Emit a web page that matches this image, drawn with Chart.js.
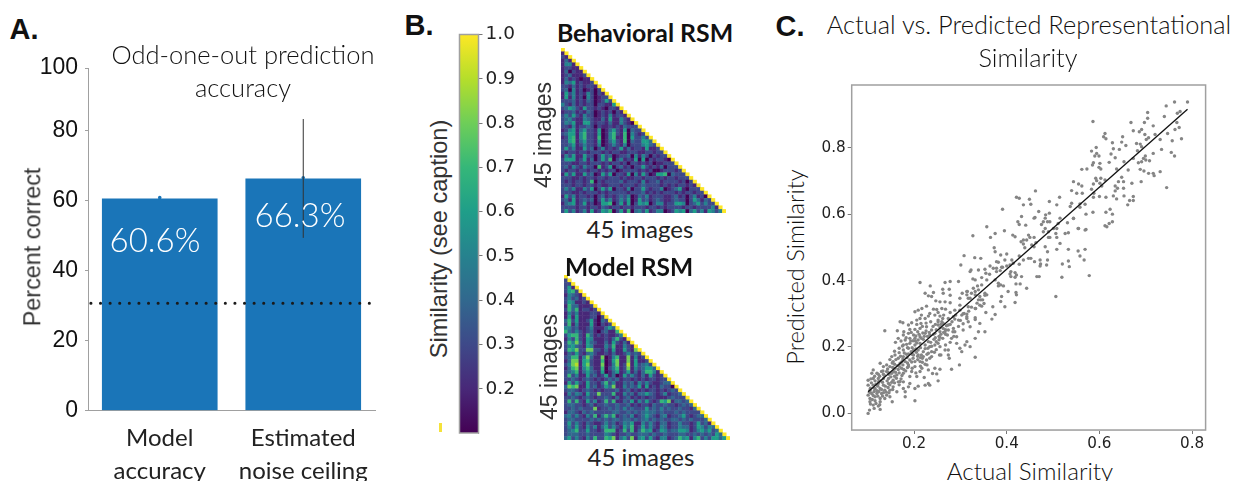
<!DOCTYPE html>
<html>
<head>
<meta charset="utf-8">
<title>Odd-one-out prediction and representational similarity</title>
<script src="https://cdn.jsdelivr.net/npm/chart.js@4"></script>
<style>
    body { margin: 0; background: #fff; width: 1237px; height: 481px; overflow: hidden; position: relative; }
    canvas { position: absolute; }
    .cap { position: absolute; white-space: nowrap; color: #1a1a1a; line-height: 1; }
</style>
</head>
<body>
<canvas id="bars" width="360" height="426" style="left:20px;top:55px"></canvas>
<canvas id="colorbar" width="75" height="420" style="left:455px;top:25px"></canvas>
<canvas id="behavioral" width="165" height="165" style="left:561px;top:48px"></canvas>
<canvas id="model" width="166" height="165" style="left:564px;top:275px"></canvas>
<canvas id="scatter" width="410" height="380" style="left:810px;top:70px"></canvas>
<div id="stray" style="position:absolute;left:439px;top:423px;width:2.5px;height:9px;background:#f5e23a"></div>
<script>
// panel A
const barCategories = [['Model', 'accuracy'], ['Estimated', 'noise ceiling']];
const barValues = [60.6, 66.3];
const barMarkers = [60.9, 66.6];
const errorCeiling = [49.4, 83.4];
const chanceLevel = 30.7;
const barTickValues = [0, 20, 40, 60, 80, 98];
const barTickLabels = ['0', '20', '40', '60', '80', '100'];

// panel B, one digit per cell, value = 0.1 + digit / 10, spaces only for counting
const behavioralRows = [
    '9', '19', '219', '1319', '14419',
    '12211 9', '13021 19', '12311 129', '13121 0119', '14351 21129',
    '22131 21221 9', '23041 20120 29', '15241 21420 219', '15141 20420 1229', '22231 21320 12529',
    '42131 21220 22115 9', '23542 15221 21022 19', '12231 21320 12120 219', '24252 14220 12141 2219', '23421 14321 13151 14219',
    '24351 15521 22131 14210 9', '22141 22320 21121 21322 29', '12451 35221 50135 21503 229', '23551 46221 50146 21604 2129', '12561 46221 60146 11605 22429',
    '22561 35221 50135 21603 22553 9', '22351 24221 40124 21402 22453 29', '25241 15230 24121 25131 22151 129', '21221 22122 21212 21122 21122 1229', '14251 15220 25230 12230 41420 21229',
    '25551 25130 25260 24121 50502 12210 9', '22211 22122 21212 21202 21212 01122 29', '23142 14220 61250 23120 22521 21302 229', '21221 22122 12122 01222 21212 00122 2129', '15251 15230 15250 22150 41520 15560 32229',
    '22211 21221 22122 21211 22122 21212 21222 9', '21212 21260 21222 23122 21412 23122 22120 29', '22212 21221 21122 21222 12322 22121 21221 219', '24241 14250 25250 22140 22521 22401 23510 2229', '22211 21222 12122 22212 22312 12122 21212 21229',
    '15241 22120 23121 23240 13241 22211 23120 24120 9', '23151 23230 25241 24250 15231 23211 23220 25313 29', '13451 25120 15560 25150 25450 24412 25540 23524 229', '22221 22122 13212 21221 22212 21212 22212 21222 2419', '25241 24151 25460 25160 34251 24401 25450 35241 54249'
];
const modelRows = [
    '9', '29', '229', '2519', '25629',
    '14321 9', '24231 29', '25411 219', '16331 1129', '26361 22129',
    '14241 11221 9', '15151 11220 29', '36251 12510 329', '26141 11510 2129', '44231 12411 13539',
    '63242 12310 23116 9', '25662 16312 12112 49', '14262 15411 12136 219', '26473 15321 13152 1319', '24532 15411 14261 14219',
    '26572 27722 13151 15217 9', '13252 13421 12131 12423 29', '23661 47311 70146 11714 129', '13771 56211 60157 11715 1129', '24781 57211 70147 12815 23429',
    '13671 46311 60246 12714 23553 9', '23461 35321 50135 12513 13664 19', '26241 15231 25130 15242 13152 129', '22321 23212 12323 12212 12122 1229', '15252 15221 36241 13231 42421 12339',
    '37671 15231 25371 14232 51512 13220 9', '23321 23212 12223 12312 12122 12123 29', '14243 15227 22261 14231 33532 12412 239', '22321 23212 23213 12312 12122 11123 2229', '26262 15241 26261 13251 42521 26571 33239',
    '23322 12312 23223 22312 12213 22322 12323 9', '22323 22271 22323 24232 22523 24232 23221 39', '13321 32322 22233 22323 23433 23222 32322 229', '34242 14261 36361 23241 23532 13412 23521 2339', '23322 22323 23233 23323 23423 23223 32323 22239',
    '25242 13211 24231 24351 14242 13312 24221 25231 9', '24252 14241 35242 15361 25242 14312 24331 25424 39', '23462 25221 26661 26261 36451 25423 35541 24535 239', '23332 23222 24321 22322 33323 22322 23322 32323 2539', '35242 14262 26571 35271 45252 14412 36451 46242 55359'
];
const colorbarTicks = [0.2, 0.3, 0.4, 0.5, 0.6, 0.7, 0.8, 0.9, 1.0];
const viridis = ['#440154', '#482878', '#3e4989', '#31688e', '#26828e', '#1f9e89', '#35b779', '#6ece58', '#b5de2b', '#fde725'];

// panel C, [actual, predicted]
const fitLine = [[0.101, 0.065], [0.79, 0.916]];
const simPairs = [
    [.790,.938],[.762,.938],[.744,.926],[.704,.906],[.586,.879],[.774,.909],[.768,.904],[.740,.894],[.704,.889],[.668,.876],[.697,.876],[.767,.876],[.716,.866],[.772,.861],[.763,.855],[.691,.855],[.686,.848],[.673,.851],[.747,.843],[.698,.840],[.720,.840],[.731,.825],[.706,.830],[.701,.825],[.777,.827],[.757,.821],[.612,.843],[.609,.833],[.614,.827],[.650,.833],[.628,.815],[.648,.817],[.657,.807],[.680,.813],[.688,.811],[.593,.801],[.583,.790],[.594,.783],[.599,.775],[.590,.775],[.630,.797],[.643,.795],[.625,.781],[.634,.770],[.682,.791],[.691,.803],[.734,.795],[.716,.783],[.755,.786],[.762,.775],[.699,.775],[.673,.768],[.695,.768],[.700,.763],[.691,.758],[.708,.761],[.684,.755],[.653,.758],[.621,.756],[.587,.755],[.585,.748],[.601,.753],[.599,.741],[.562,.735],[.573,.736],[.603,.736],[.637,.736],[.662,.733],[.688,.735],[.696,.730],[.706,.723],[.716,.723],[.718,.716],[.731,.728],[.592,.708],[.603,.708],[.612,.703],[.594,.701],[.601,.693],[.555,.691],[.562,.685],[.544,.698],[.648,.711],[.641,.698],[.652,.698],[.634,.685],[.670,.693],[.690,.698],[.605,.685],[.587,.691],[.745,.680],[.639,.678],[.652,.678],[.634,.670],[.583,.675],[.540,.671],[.551,.663],[.563,.663],[.588,.663],[.587,.651],[.600,.653],[.614,.651],[.630,.655],[.637,.646],[.653,.655],[.673,.653],[.673,.641],[.665,.641],[.661,.628],[.540,.633],[.558,.631],[.569,.630],[.558,.621],[.537,.623],[.571,.600],[.586,.606],[.614,.606],[.623,.615],[.628,.600],[.544,.587],[.628,.577],[.621,.572],[.612,.565],[.616,.562],[.555,.557],[.571,.554],
    [.462,.670],[.421,.651],[.427,.648],[.449,.645],[.436,.628],[.452,.630],[.391,.615],[.469,.608],[.492,.638],[.514,.651],[.508,.628],[.432,.593],[.461,.590],[.484,.598],[.492,.603],[.424,.577],[.427,.569],[.441,.567],[.459,.588],[.483,.588],[.479,.577],[.475,.569],[.488,.577],[.493,.577],[.515,.588],[.511,.572],[.531,.574],[.544,.588],[.357,.562],[.395,.550],[.375,.542],[.327,.535],[.365,.530],[.413,.537],[.418,.532],[.483,.557],[.479,.547],[.490,.547],[.501,.557],[.508,.557],[.506,.542],[.508,.530],[.490,.530],[.493,.530],[.447,.537],[.450,.530],[.459,.530],[.526,.542],[.533,.544],[.554,.557],[.569,.552],[.436,.522],[.431,.517],[.436,.510],[.443,.522],[.463,.514],[.454,.507],[.459,.502],[.439,.499],[.515,.512],[.373,.499],[.375,.487],[.508,.494],[.483,.502],[.488,.487],[.533,.494],[.554,.489],[.569,.494],[.387,.477],[.400,.480],[.427,.474],[.396,.462],[.308,.475],[.331,.469],[.344,.467],[.447,.467],[.452,.467],[.472,.462],[.488,.462],[.460,.457],[.558,.474],[.567,.462],[.533,.459],[.378,.457],[.382,.455],[.411,.462],[.436,.462],[.414,.452],[.427,.449],[.407,.447],[.473,.450],[.472,.444],[.486,.447],[.520,.450],[.535,.442],[.364,.444],[.353,.434],[.371,.437],[.378,.437],[.391,.440],[.400,.444],[.323,.432],[.339,.432],[.301,.447],[.321,.427],[.355,.422],[.363,.419],[.378,.427],[.386,.430],[.389,.440],[.409,.427],[.418,.424],[.407,.420],[.421,.417],[.409,.412],[.418,.410],[.432,.412],[.465,.412],[.470,.412],[.519,.410],[.578,.415],[.327,.405],[.332,.402],[.346,.409],[.357,.402],[.375,.402],[.382,.392],[.387,.387],[.393,.384],[.382,.384],[.346,.387],[.337,.384],[.328,.377],[.315,.367],[.314,.357],[.304,.362],[.324,.362],[.332,.357],[.353,.362],[.357,.357],[.403,.367],[.420,.390],[.429,.390],[.443,.377],[.420,.364],[.421,.357],[.389,.352],[.506,.352],[.344,.342],[.339,.342],[.387,.337],[.317,.347],[.351,.331],[.346,.323],[.342,.326],[.333,.316],[.418,.334],[.370,.321],[.396,.321],[.355,.304],[.308,.301],[.314,.299],[.375,.298],[.332,.288],[.314,.286],[.368,.284],[.303,.296],
    [.213,.394],[.235,.384],[.267,.394],[.278,.397],[.296,.397],[.224,.362],[.231,.354],[.242,.364],[.238,.352],[.262,.374],[.276,.374],[.263,.362],[.278,.356],[.314,.367],[.332,.367],[.339,.372],[.299,.347],[.321,.347],[.342,.352],[.353,.356],[.247,.339],[.256,.336],[.267,.336],[.278,.333],[.217,.316],[.209,.311],[.202,.306],[.227,.323],[.260,.316],[.249,.313],[.299,.326],[.288,.311],[.299,.311],[.332,.316],[.317,.321],[.234,.301],[.231,.293],[.245,.296],[.256,.293],[.262,.286],[.252,.281],[.260,.276],[.213,.286],[.206,.281],[.224,.286],[.195,.273],[.188,.266],[.206,.268],[.215,.271],[.170,.276],[.176,.273],[.137,.249],[.164,.249],[.178,.246],[.191,.253],[.202,.253],[.213,.256],[.227,.261],[.238,.251],[.252,.266],[.263,.271],[.274,.266],[.285,.291],[.296,.281],[.314,.291],[.317,.276],[.332,.283],[.342,.271],[.306,.251],[.321,.261],[.339,.246],[.353,.246],[.285,.256],[.288,.246],[.274,.251],[.267,.246],[.263,.256],[.256,.246],[.245,.241],[.234,.236],[.224,.241],[.213,.231],[.199,.236],[.188,.241],[.177,.236],[.166,.226],[.181,.221],[.191,.226],[.202,.226],[.209,.221],[.220,.223],[.231,.216],[.243,.223],[.256,.229],[.272,.236],[.281,.226],[.292,.231],[.314,.216],[.332,.226],[.292,.211],[.299,.196],[.310,.206],[.321,.201],[.303,.186],[.332,.169],[.281,.133],[.298,.146],[.274,.191],[.267,.191],[.256,.201],[.245,.206],[.234,.201],[.224,.206],[.213,.211],[.202,.206],[.191,.211],[.177,.206],[.168,.196],[.159,.176],[.152,.171],[.177,.191],[.188,.196],[.199,.191],[.209,.191],[.220,.186],[.231,.181],[.238,.171],[.255,.176],[.276,.166],[.274,.176],[.220,.171],[.209,.176],[.199,.176],[.188,.179],[.177,.171],[.166,.166],[.155,.156],[.170,.151],[.181,.156],[.191,.161],[.202,.156],[.213,.156],[.227,.161],[.141,.146],[.127,.151],[.134,.141],[.148,.141],[.159,.136],[.173,.136],[.188,.141],[.202,.141],[.217,.136],[.231,.131],[.245,.136],[.256,.133],[.249,.119],[.213,.126],[.195,.126],[.112,.131],[.109,.121],[.120,.121],[.130,.126],[.141,.126],[.152,.121],[.163,.116],[.177,.121],[.191,.111],[.206,.111],[.101,.100],[.112,.105],[.123,.105],[.134,.105],[.145,.105],[.155,.100],[.166,.095],[.177,.095],[.191,.090],[.231,.090],[.234,.085],[.224,.085],[.209,.082],[.202,.075],[.188,.080],[.177,.075],[.101,.085],[.112,.085],[.123,.090],[.134,.085],[.145,.090],[.155,.080],[.105,.070],[.116,.075],[.127,.075],[.137,.070],[.148,.070],[.163,.065],[.181,.065],[.101,.055],[.109,.060],[.120,.060],[.130,.060],[.141,.055],[.181,.050],[.148,.050],[.105,.045],[.116,.050],[.127,.045],[.137,.045],[.105,.035],[.116,.038],[.127,.035],[.153,.035],[.202,.038],[.112,.025],[.123,.022],[.114,.015],[.127,.012],[.104,.010],[.101,.000],
    [.160,.214],[.172,.218],[.184,.208],[.196,.198],[.183,.228],[.175,.203],[.198,.219],[.206,.212],[.216,.226],[.222,.232],[.194,.244],[.204,.233],[.168,.183],[.158,.187],[.148,.162],[.158,.148],[.168,.142],[.176,.164],[.185,.168],[.195,.155],[.205,.184],[.214,.198],[.224,.195],[.236,.214],[.246,.228],[.252,.211],[.262,.226],[.268,.238],[.256,.258],[.246,.268],[.236,.276],[.226,.272],[.218,.262],[.208,.246],[.226,.248],[.196,.178],[.186,.152],[.176,.146],[.166,.132],[.156,.126],[.146,.118],[.136,.114],[.126,.112],[.116,.098],[.108,.092],[.142,.098],[.152,.094],[.162,.106],[.172,.104],[.182,.128],[.196,.136],[.208,.162],[.218,.166],[.228,.146],[.238,.186],[.248,.192],[.258,.176],[.268,.206],[.278,.214],[.286,.232],[.264,.296],[.274,.286],[.282,.276],[.278,.304],[.268,.314],[.252,.304],[.242,.314],[.216,.296],[.132,.094],[.122,.082],[.114,.066],[.124,.066],[.134,.062],[.144,.078],[.154,.072],[.168,.086],[.106,.076],[.106,.062],[.112,.054],[.122,.052],[.132,.052],[.106,.028],[.118,.030],[.126,.026],[.146,.062],[.158,.092],[.174,.114],[.186,.138],[.214,.142],[.204,.122],[.222,.108],[.240,.120],[.252,.098],[.216,.176],[.230,.196],[.242,.238],[.254,.222],[.270,.264],[.284,.246],[.296,.262],[.306,.270],[.306,.300],[.318,.308],[.290,.296],[.300,.280],[.324,.320],[.336,.332],[.348,.342],
    [.252,.276],[.258,.268],[.248,.252],[.241,.262],[.233,.244],[.229,.232],[.219,.242],[.211,.238],[.203,.218],[.193,.218],[.186,.198],[.179,.182],[.171,.172],[.161,.162],[.153,.152],[.143,.134],[.133,.128],[.123,.118],[.115,.112],[.107,.104],[.118,.088],[.128,.098],[.138,.082],[.148,.086],[.158,.112],[.168,.122],[.178,.132],[.188,.146],[.198,.166],[.208,.172],[.218,.154],[.228,.178],[.238,.202],[.248,.216],[.258,.238],[.268,.252],[.278,.268],[.288,.284],[.264,.244],[.254,.232],[.244,.184],[.234,.166],[.224,.148],[.214,.168],[.204,.194],[.194,.186],[.184,.178],[.174,.156],[.164,.144],[.154,.138],[.144,.124],[.134,.118],[.124,.096],[.114,.076],[.104,.064],[.110,.042],[.120,.068],[.130,.072],[.140,.064],[.150,.110],[.160,.124],[.170,.096]
];

const axisGray = '#a0a0a0';

function parseRows(rows) {
    let cells = [];
    rows.forEach((row, r) => {
        row.replace(/ /g, '').split('').forEach((digit, c) => {
            cells.push({ x: c + 0.5, y: r + 0.5, v: digit / 10 });
        });
    });
    return cells;
}

function viridisColor(v) {
    return viridis[Math.round(v * 10)];
}

// fixed width so the plot area stays where the reference has it, no room kept for the top label
function fitVertical(width) {
    return (scale) => {
        scale.width = width;
        scale.paddingTop = 0;
        scale.paddingBottom = 0;
    };
}

// outline of the plot area, used by the colorbar and the scatter
const framePlugin = {
    id: 'frame',
    afterDatasetsDraw(chart) {
        const a = chart.chartArea;
        const ctx = chart.ctx;
        ctx.save();
        ctx.strokeStyle = axisGray;
        ctx.lineWidth = 1.5;
        ctx.strokeRect(a.left, a.top, a.right - a.left, a.bottom - a.top);
        ctx.restore();
    }
};

new Chart(document.getElementById('bars'), {
    type: 'bar',
    data: {
        labels: barCategories,
        datasets: [
            {
                type: 'line', xAxisID: 'x2',
                data: [{ x: 1.5, y: errorCeiling[0] }, { x: 1.5, y: errorCeiling[1] }],
                borderColor: '#333', borderWidth: 1, pointRadius: 0
            },
            {
                type: 'line', xAxisID: 'x2', showLine: false,
                data: [{ x: 0.5, y: barMarkers[0] }, { x: 1.5, y: barMarkers[1] }],
                pointRadius: 1.8, pointBorderWidth: 0, pointBackgroundColor: '#1a75b8'
            },
            {
                type: 'line', xAxisID: 'x2',
                data: [{ x: 0.02, y: chanceLevel }, { x: 1.97, y: chanceLevel }],
                borderColor: '#1a1a1a', borderWidth: 3, borderDash: [0.1, 9.5], borderCapStyle: 'round', pointRadius: 0
            },
            {
                data: barValues,
                backgroundColor: '#1a75b8',
                grouped: false,
                categoryPercentage: 1,
                barPercentage: 1,
                maxBarThickness: 115
            }
        ]
    },
    options: {
        responsive: false,
        animation: false,
        layout: { autoPadding: false, padding: { top: 13, right: 5 } },
        plugins: { legend: { display: false }, tooltip: { enabled: false } },
        scales: {
            x: {
                offset: true,
                grid: { display: false },
                border: { color: axisGray },
                ticks: { color: '#222', padding: 3, maxRotation: 0, font: { family: 'Lato', size: 24, lineHeight: 1.375 } },
                afterFit: (scale) => { scale.height = 70.5; }
            },
            x2: { type: 'linear', display: false, offset: false, min: 0, max: 2 },
            y: {
                min: 0,
                max: 98,
                afterBuildTicks: (scale) => { scale.ticks = barTickValues.map((v) => ({ value: v })); },
                grid: { drawOnChartArea: false, color: axisGray, tickLength: 3 },
                border: { color: axisGray },
                ticks: {
                    color: '#111',
                    padding: 7,
                    font: { family: 'Liberation Sans', size: 23 },
                    callback: (value) => barTickLabels[barTickValues.indexOf(value)]
                },
                afterFit: fitVertical(68)
            }
        }
    }
});

new Chart(document.getElementById('colorbar'), {
    type: 'bar',
    data: {
        labels: [''],
        datasets: [{
            data: [[0.1, 1.0]],
            categoryPercentage: 1,
            barPercentage: 1,
            backgroundColor: (context) => {
                const area = context.chart.chartArea;
                if (!area) {
                    return viridis[0];
                }
                let gradient = context.chart.ctx.createLinearGradient(0, area.bottom, 0, area.top);
                viridis.forEach((color, i) => gradient.addColorStop(i / 9, color));
                return gradient;
            }
        }]
    },
    plugins: [framePlugin],
    options: {
        responsive: false,
        animation: false,
        layout: { autoPadding: false, padding: { left: 4.5, top: 9.5, bottom: 12 } },
        plugins: { legend: { display: false }, tooltip: { enabled: false } },
        scales: {
            x: { display: false },
            y: {
                position: 'right',
                min: 0.1,
                max: 1,
                afterBuildTicks: (scale) => { scale.ticks = colorbarTicks.map((v) => ({ value: v })); },
                grid: { drawOnChartArea: false, color: '#777', tickLength: 4 },
                border: { color: axisGray },
                ticks: {
                    color: '#222',
                    padding: 3,
                    font: { family: 'DejaVu Sans', size: 18.5 },
                    callback: (value) => value.toFixed(1)
                },
                afterFit: fitVertical(51.5)
            }
        }
    }
});

function drawHeatmap(id, rows) {
    const cells = parseRows(rows);
    new Chart(document.getElementById(id), {
        type: 'scatter',
        data: {
            datasets: [{
                data: cells,
                pointStyle: 'rect',
                pointRadius: 2.9,
                pointBorderWidth: 0,
                pointBackgroundColor: cells.map((cell) => viridisColor(cell.v))
            }]
        },
        options: {
            responsive: false,
            animation: false,
            layout: { autoPadding: false },
            plugins: { legend: { display: false }, tooltip: { enabled: false } },
            scales: {
                x: { display: false, min: 0, max: 45 },
                y: { display: false, min: 0, max: 45, reverse: true }
            }
        }
    });
}

drawHeatmap('behavioral', behavioralRows);
drawHeatmap('model', modelRows);

new Chart(document.getElementById('scatter'), {
    type: 'scatter',
    data: {
        datasets: [
            {
                type: 'line',
                data: fitLine.map((p) => ({ x: p[0], y: p[1] })),
                borderColor: '#111',
                borderWidth: 1.3,
                pointRadius: 0
            },
            {
                data: simPairs.map((p) => ({ x: p[0], y: p[1] })),
                pointRadius: 1.7,
                pointBorderWidth: 0,
                pointBackgroundColor: '#858585'
            }
        ]
    },
    plugins: [framePlugin],
    options: {
        responsive: false,
        animation: false,
        layout: { autoPadding: false, padding: { top: 15, right: 14.4 } },
        plugins: { legend: { display: false }, tooltip: { enabled: false } },
        scales: {
            x: {
                min: 0.0656,
                max: 0.829,
                afterBuildTicks: (scale) => { scale.ticks = [0.2, 0.4, 0.6, 0.8].map((v) => ({ value: v })); },
                grid: { drawOnChartArea: false, color: '#777', tickLength: 4 },
                ticks: { color: '#222', padding: 1, font: { family: 'DejaVu Sans', size: 15.2 }, maxRotation: 0, callback: (value) => value.toFixed(1) },
                afterFit: (scale) => { scale.height = 20; }
            },
            y: {
                min: -0.05,
                max: 0.989,
                afterBuildTicks: (scale) => { scale.ticks = [0, 0.2, 0.4, 0.6, 0.8].map((v) => ({ value: v })); },
                grid: { drawOnChartArea: false, color: '#777', tickLength: 4 },
                ticks: { color: '#222', padding: 2, font: { family: 'DejaVu Sans', size: 15.2 }, callback: (value) => value.toFixed(1) },
                afterFit: fitVertical(41.7)
            }
        }
    }
});

// text that sits outside the axes: [text, center x, center y, size, font, weight, color, rotation]
const captions = [
    ['A.', 24, 29, 29, 'Liberation Sans', 700, '#111', 0],
    ['B.', 419, 25, 29, 'Liberation Sans', 700, '#111', 0],
    ['C.', 790, 26, 29, 'Liberation Sans', 700, '#111', 0],
    ['Odd-one-out prediction', 243, 55, 25.5, 'Lato', 300, '#111', 0],
    ['accuracy', 243, 88, 25.5, 'Lato', 300, '#111', 0],
    ['Percent correct', 33, 247, 23.4, 'Liberation Sans', 400, '#333', -90],
    ['60.6%', 155, 239, 33, 'Lato', 300, '#fff', 0],
    ['66.3%', 300, 214, 33, 'Lato', 300, '#fff', 0],
    ['Similarity (see caption)', 440, 239, 23.6, 'Liberation Sans', 400, '#333', -90],
    ['Behavioral RSM', 645, 33, 24.8, 'Lato', 700, '#111', 0],
    ['45 images', 543, 135, 23, 'Liberation Sans', 400, '#333', -90],
    ['45 images', 640, 229, 24, 'Lato', 400, '#222', 0],
    ['Model RSM', 629, 267, 24.5, 'Lato', 700, '#111', 0],
    ['45 images', 549, 367, 23, 'Liberation Sans', 400, '#333', -90],
    ['45 images', 641, 457, 24, 'Lato', 400, '#222', 0],
    ['Actual vs. Predicted Representational', 1029, 25, 25.4, 'Lato', 300, '#111', 0],
    ['Similarity', 1028, 58, 25.4, 'Lato', 300, '#111', 0],
    ['Actual Similarity', 1030, 471, 24.2, 'Lato', 300, '#111', 0],
    ['Predicted Similarity', 796, 267, 23.7, 'Lato', 300, '#111', -90]
];

captions.forEach((c) => {
    let el = document.createElement('div');
    el.className = 'cap';
    el.textContent = c[0];
    el.style.left = c[1] + 'px';
    el.style.top = c[2] + 'px';
    el.style.fontSize = c[3] + 'px';
    el.style.fontFamily = c[4];
    el.style.fontWeight = c[5];
    el.style.color = c[6];
    el.style.transform = 'translate(-50%, -50%) rotate(' + c[7] + 'deg)';
    document.body.appendChild(el);
});
</script>
</body>
</html>
